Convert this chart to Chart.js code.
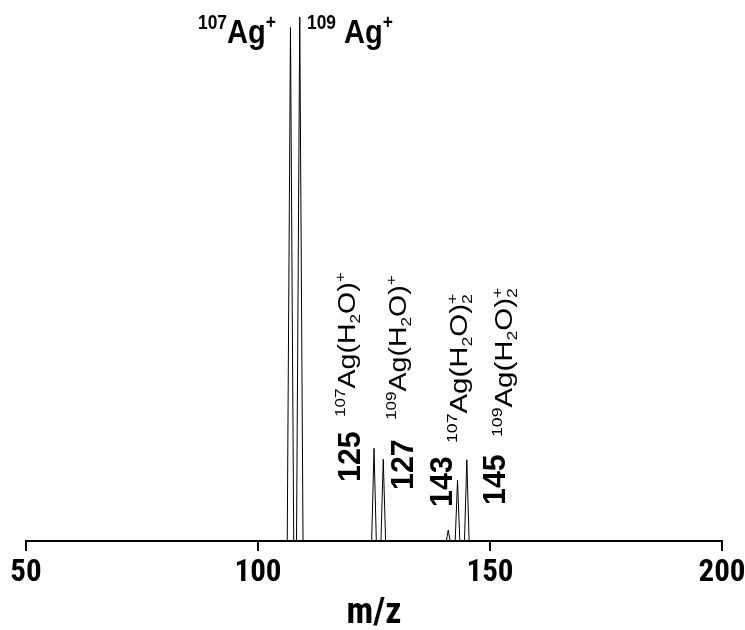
<!DOCTYPE html>
<html>
<head>
<meta charset="utf-8">
<script src="https://cdn.jsdelivr.net/npm/chart.js@4"></script>
<style>
  html, body { margin: 0; padding: 0; background: #fff; }
  canvas { display: block; }
</style>
</head>
<body>
<canvas id="spectrum" width="745" height="630"></canvas>
<script>
// m/z positions and relative intensities (peak apex plus its base corners)
const mz = [50, 106.3, 107, 107.7, 108.3, 109, 109.7, 124.5, 125, 125.5, 126.5, 127, 127.5,
            140.6, 141, 141.4, 142.5, 143, 143.5, 144.5, 145, 145.5, 200];
const intensity = [0, 0, 98, 0, 0, 100, 0, 0, 17.7, 0, 0, 15.6, 0,
                   0, 2.1, 0, 0, 11.6, 0, 0, 15.5, 0, 0];
const xTicks = [50, 100, 150, 200];

const condensed = "'Roboto Condensed', 'DejaVu Sans Condensed', sans-serif";
const regular = "'Liberation Sans', Arial, sans-serif";

// draw a run of text pieces (superscripts / subscripts) along a baseline
function drawRuns(ctx, x, y, angle, sx, size, family, weight, runs) {
    ctx.save();
    ctx.translate(x, y);
    ctx.rotate(angle);
    ctx.scale(sx, 1);
    ctx.fillStyle = "#000";
    ctx.textBaseline = "alphabetic";
    ctx.textAlign = "left";
    let cx = 0;
    runs.forEach(r => {
        const s = Math.round(size * (r.s || 1) * 10) / 10;
        ctx.font = weight + " " + s + "px " + family;
        ctx.fillText(r.t, cx, (r.dy || 0) * size);
        if (!r.stay) cx += ctx.measureText(r.t).width;
    });
    ctx.restore();
}

const sup = t => ({ t, s: 0.6, dy: -0.42 });
const sub = t => ({ t, s: 0.6, dy: 0.22 });

const labelPlugin = {
    id: "peakLabels",
    afterDatasetsDraw(chart) {
        const ctx = chart.ctx;
        const up = -Math.PI / 2;
        // top labels
        drawRuns(ctx, 198, 43, 0, 0.88, 33, regular, "bold", [sup("107"), { t: "Ag" }, sup("+")]);
        drawRuns(ctx, 307, 43, 0, 0.88, 33, regular, "bold", [sup("109"), { t: " Ag" }, sup("+")]);
        // rotated masses
        drawRuns(ctx, 360, 482, up, 0.95, 32, regular, "bold", [{ t: "125" }]);
        drawRuns(ctx, 413, 490, up, 0.95, 32, regular, "bold", [{ t: "127" }]);
        drawRuns(ctx, 452, 507, up, 0.95, 32, regular, "bold", [{ t: "143" }]);
        drawRuns(ctx, 505, 505, up, 0.95, 32, regular, "bold", [{ t: "145" }]);
        // rotated assignments
        const mono = iso => [sup(iso), { t: "Ag(H" }, sub("2"), { t: "O)" }, sup("+")];
        const di = iso => [sup(iso), { t: "Ag(H" }, sub("2"), { t: "O)" },
                           { t: "2", s: 0.6, dy: 0.22, stay: true }, sup("+")];
        drawRuns(ctx, 355, 417, up, 1.24, 23, regular, "normal", mono("107"));
        drawRuns(ctx, 406, 420, up, 1.24, 23, regular, "normal", mono("109"));
        drawRuns(ctx, 467, 443, up, 1.28, 23, regular, "normal", di("107"));
        drawRuns(ctx, 512, 437, up, 1.28, 23, regular, "normal", di("109"));
    }
};

new Chart(document.getElementById("spectrum").getContext("2d"), {
    type: "line",
    data: {
        datasets: [{
            data: mz.map((x, i) => ({ x: x, y: intensity[i] })),
            borderColor: "#000",
            borderWidth: 1,
            pointRadius: 0,
            tension: 0,
            fill: false
        }]
    },
    options: {
        responsive: false,
        animation: false,
        devicePixelRatio: 1,
        layout: { padding: { left: 26, right: 23, top: 17, bottom: -2 } },
        plugins: { legend: { display: false }, tooltip: { enabled: false } },
        scales: {
            x: {
                type: "linear",
                min: 50,
                max: 200,
                afterBuildTicks: axis => { axis.ticks = xTicks.map(v => ({ value: v })); },
                afterFit: axis => { axis.paddingLeft = 0; axis.paddingRight = 0; },
                ticks: {
                    color: "#000",
                    padding: 7,
                    maxRotation: 0,
                    font: { family: condensed, size: 31, weight: "bold", lineHeight: 1 }
                },
                grid: { drawOnChartArea: false, tickLength: 10, color: "#000", lineWidth: 2 },
                border: { display: true, color: "#000", width: 2 },
                title: {
                    display: true,
                    text: "m/z",
                    color: "#000",
                    padding: { top: 0, bottom: 0 },
                    font: { family: condensed, size: 36, weight: "bold", lineHeight: 1 }
                }
            },
            y: { display: false, min: 0, max: 100 }
        }
    },
    plugins: [labelPlugin]
});
</script>
</body>
</html>
